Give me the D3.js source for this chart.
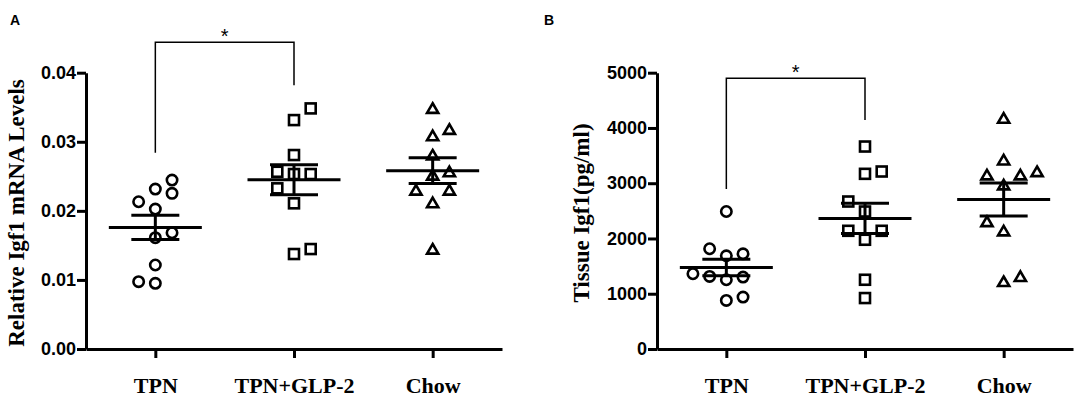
<!DOCTYPE html>
<html>
<head>
<meta charset="utf-8">
<script src="https://cdn.jsdelivr.net/npm/d3@7"></script>
<style>
  body { margin: 0; background: #fff; }
  svg { display: block; }
</style>
</head>
<body>
<div id="chart"></div>
<script>
// groups on the x axis
const groups = ["TPN", "TPN+GLP-2", "Chow"];

// panel A - relative Igf1 mRNA, values in entry order
const mrnaTPN  = [0.02315, 0.02026, 0.01611, 0.01216, 0.00951, 0.02446, 0.02132, 0.01683, 0.02253, 0.00974];
const mrnaGLP2 = [0.03314, 0.02808, 0.02533, 0.02109, 0.01375, 0.03483, 0.02566, 0.02533, 0.02326, 0.01447];
const mrnaChow = [0.03485, 0.03088, 0.02809, 0.02519, 0.02118, 0.01448, 0.03181, 0.02302, 0.02567, 0.02302];
const mrnaTicks = [0, 0.01, 0.02, 0.03, 0.04];

// panel B - tissue Igf1 (pg/ml)
const tissueTPN  = [2488, 1687, 1253, 879, 1723, 1313, 1302, 1362, 1814, 940];
const tissueGLP2 = [3664, 3170, 2488, 1977, 1253, 922, 3212, 2669, 2139, 2139];
const tissueChow = [4177, 3423, 2971, 2139, 1222, 3152, 3152, 3212, 2307, 1313];
const tissueTicks = [0, 1000, 2000, 3000, 4000, 5000];

// significance brackets (data units): top, end of left leg, end of right leg
const bracketA = [0.0444, 0.0284, 0.0382];
const bracketB = [4900, 2895, 4145];

const width = 1084, height = 399;
const plotTop = 72.7, plotBottom = 349;
const plotW = 416;
const slotW = 16.7;          // horizontal step of the scatter columns
const meanHalf = 46.5, semHalf = 24;
const shapes = ["circle", "square", "triangle"];
const gaps = {circle: 12.8, square: 15, triangle: 15};

const serif = "'Liberation Serif', 'Times New Roman', serif";
const sans = "'Liberation Sans', Arial, sans-serif";

const svg = d3.select('#chart').append('svg')
    .attr('width', width)
    .attr('height', height);

// column scatter: centre first, then spread sideways keeping both sides balanced
function swarm(values, y, gap) {
    let placed = [];
    let right = 0, left = 0;
    values.forEach(function(v) {
        const py = y(v);
        const free = function(s) {
            return !placed.some(function(p) { return p.slot === s && Math.abs(p.py - py) < gap; });
        };
        let slot = 0;
        if (!free(0)) {
            for (let k = 1; k < 10; k++) {
                const order = right > left ? [-k, k] : [k, -k];
                const s = order.find(free);
                if (s !== undefined) { slot = s; break; }
            }
        }
        if (slot > 0) right++;
        if (slot < 0) left++;
        placed.push({v: v, py: py, slot: slot});
    });
    return placed;
}

function marker(g, shape) {
    if (shape === 'circle') {
        g.append('circle').attr('r', 5.2);
    } else if (shape === 'square') {
        g.append('rect').attr('x', -5).attr('y', -5).attr('width', 10).attr('height', 10);
    } else {
        g.append('path').attr('d', 'M0,-5L5.6,4.6L-5.6,4.6Z');
    }
}

function drawPanel(p) {
    const g = svg.append('g');
    const x = d3.scalePoint().domain(groups).range([p.x0, p.x0 + plotW]).padding(0.5);
    const y = d3.scaleLinear().domain([0, p.ticks[p.ticks.length - 1]]).range([plotBottom, plotTop]);

    // axes
    const yAxis = g.append('g')
        .attr('transform', 'translate(' + p.x0 + ',0)')
        .call(d3.axisLeft(y).tickValues(p.ticks).tickFormat(p.fmt).tickSize(9).tickSizeOuter(0).tickPadding(1));
    const xAxis = g.append('g')
        .attr('transform', 'translate(0,' + plotBottom + ')')
        .call(d3.axisBottom(x).tickSize(9).tickSizeOuter(0));
    [xAxis, yAxis].forEach(function(a) {
        a.selectAll('path, line').attr('stroke', '#000').attr('stroke-width', 3);
    });
    yAxis.selectAll('text')
        .attr('fill', '#000')
        .style('font-family', sans)
        .style('font-weight', 'bold')
        .style('font-size', '18px');
    xAxis.selectAll('text')
        .attr('fill', '#000')
        .attr('y', 44)
        .attr('dy', 0)
        .style('font-family', serif)
        .style('font-weight', 'bold')
        .style('font-size', '22px');

    // points and mean +/- SEM
    p.series.forEach(function(vals, i) {
        const cx = x(groups[i]);
        const pts = swarm(vals, y, gaps[shapes[i]]);
        pts.forEach(function(d) {
            const m = g.append('g')
                .attr('transform', 'translate(' + (cx + d.slot * slotW) + ',' + d.py + ')')
                .attr('fill', 'none')
                .attr('stroke', '#000')
                .attr('stroke-width', 2.6);
            marker(m, shapes[i]);
        });

        const mean = d3.mean(vals);
        const sem = d3.deviation(vals) / Math.sqrt(vals.length);
        const eb = g.append('g').attr('stroke', '#000').attr('stroke-width', 3);
        eb.append('line')
            .attr('x1', cx - meanHalf).attr('x2', cx + meanHalf)
            .attr('y1', y(mean)).attr('y2', y(mean));
        [mean - sem, mean + sem].forEach(function(v) {
            eb.append('line')
                .attr('x1', cx - semHalf).attr('x2', cx + semHalf)
                .attr('y1', y(v)).attr('y2', y(v));
        });
        eb.append('line')
            .attr('x1', cx).attr('x2', cx)
            .attr('y1', y(mean - sem)).attr('y2', y(mean + sem));
    });

    // significance bracket between TPN and TPN+GLP-2
    const bx1 = x(groups[0]), bx2 = x(groups[1]);
    g.append('path')
        .attr('d', 'M' + bx1 + ',' + y(p.bracket[1]) + 'V' + y(p.bracket[0]) +
                   'H' + bx2 + 'V' + y(p.bracket[2]))
        .attr('fill', 'none')
        .attr('stroke', '#000')
        .attr('stroke-width', 1.5);
    g.append('text')
        .text('*')
        .attr('x', (bx1 + bx2) / 2)
        .attr('y', y(p.bracket[0]) + 1)
        .attr('text-anchor', 'middle')
        .style('font-family', sans)
        .style('font-size', '20px');

    // y title and panel letter
    g.append('text')
        .text(p.title)
        .attr('transform', 'translate(' + (p.x0 - p.titleOffset) + ',213) rotate(-90)')
        .attr('text-anchor', 'middle')
        .style('font-family', serif)
        .style('font-weight', 'bold')
        .style('font-size', '23px');
    g.append('text')
        .text(p.letter)
        .attr('x', p.letterX)
        .attr('y', 25)
        .style('font-family', sans)
        .style('font-weight', 'bold')
        .style('font-size', '14px');
}

drawPanel({
    x0: 86,
    series: [mrnaTPN, mrnaGLP2, mrnaChow],
    ticks: mrnaTicks,
    fmt: d3.format('.2f'),
    bracket: bracketA,
    title: 'Relative Igf1 mRNA Levels',
    titleOffset: 62.5,
    letter: 'A',
    letterX: 10
});

drawPanel({
    x0: 657,
    series: [tissueTPN, tissueGLP2, tissueChow],
    ticks: tissueTicks,
    fmt: d3.format('d'),
    bracket: bracketB,
    title: 'Tissue Igf1(pg/ml)',
    titleOffset: 68,
    letter: 'B',
    letterX: 544
});
</script>
</body>
</html>
